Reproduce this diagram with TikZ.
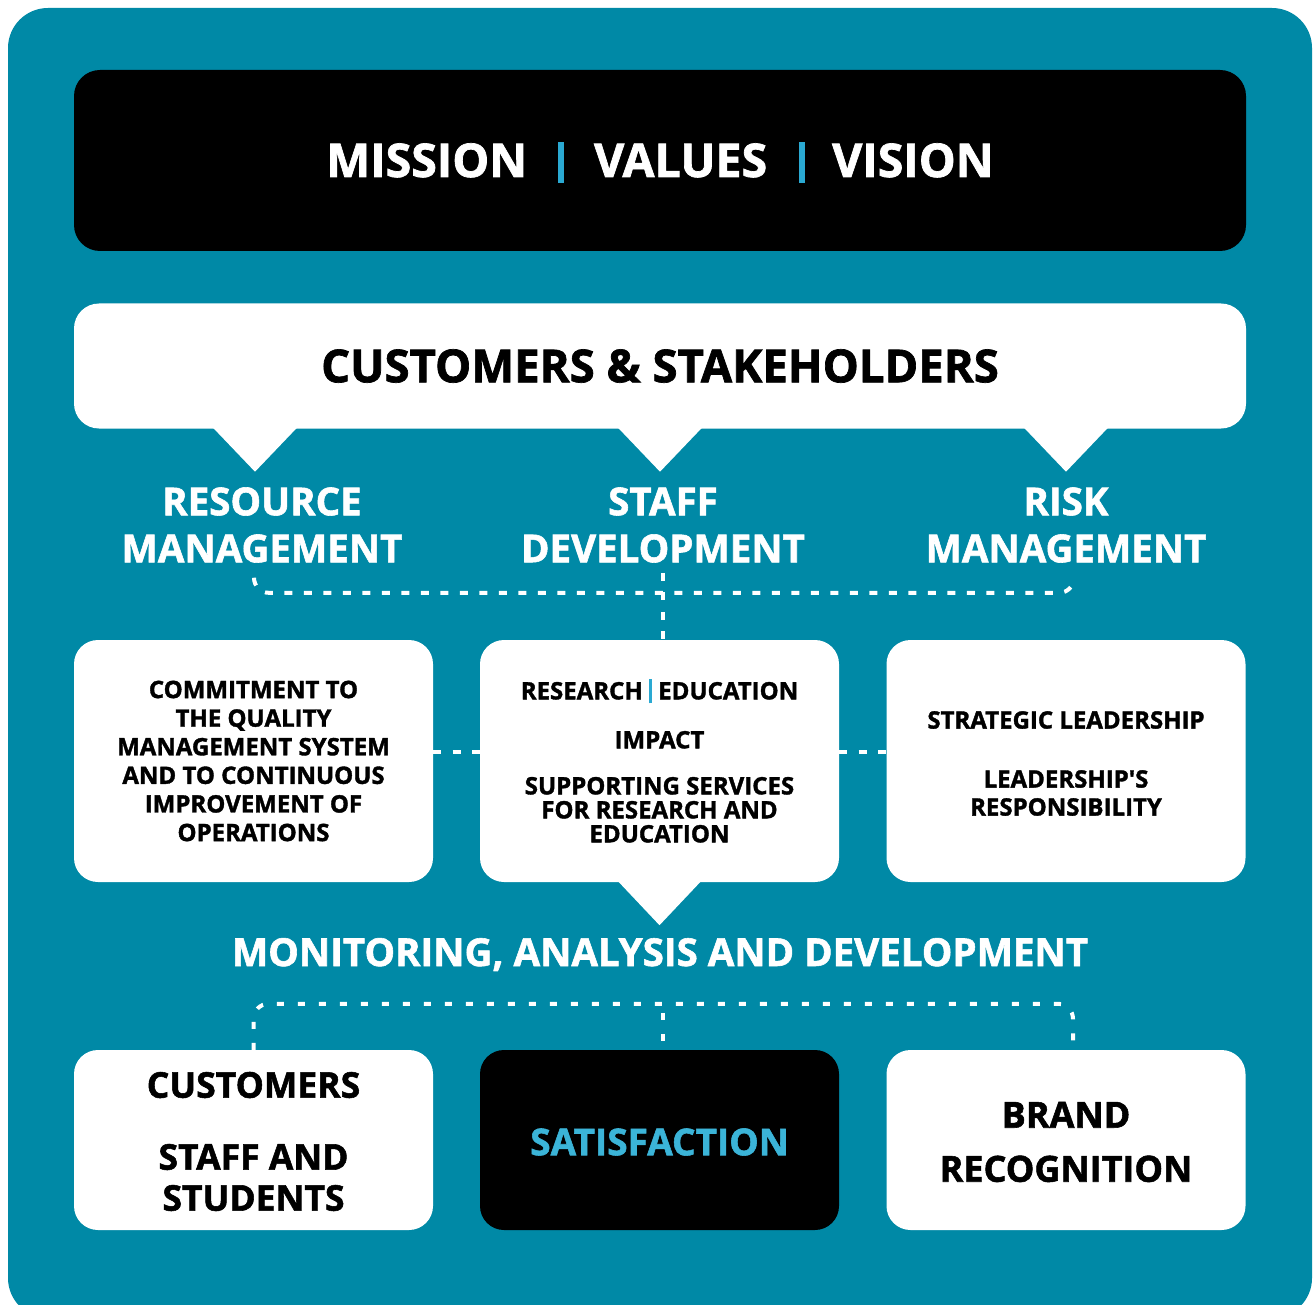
\documentclass[tikz,border=0pt]{standalone}
\usepackage{fontspec}
\setmainfont{Open Sans}[Ligatures=TeXOff, BoldFeatures={FakeBold=1.5}]
\usetikzlibrary{calc}
\definecolor{bgteal}{HTML}{0089A6}
\definecolor{sepblue}{HTML}{2AA9D2}
\definecolor{satblue}{HTML}{3BB4D8}
\newcommand\fsz[2]{\fontsize{#1}{#2}\selectfont\bfseries}
\begin{document}
\begin{tikzpicture}[x=1pt,y=-1pt,
  wbox/.style={fill=white, rounded corners=24pt, inner sep=0pt, minimum width=359pt, minimum height=242pt, align=center},
  lowbox/.style={fill=white, rounded corners=24pt, inner sep=0pt, minimum width=359pt, minimum height=180pt, align=center},
  txt/.style={inner sep=0pt, align=center, text=black},
  wtxt/.style={inner sep=0pt, align=center, text=white},
  dline/.style={draw=white, line width=4pt, dash pattern=on 8pt off 11.5pt},
  dotline/.style={draw=white, line width=4pt, dash pattern=on 7pt off 14pt},
  pointer/.style={fill=white}
]
\useasboundingbox (0,0) rectangle (1314,1305);
\fill[white] (0,0) rectangle (1314,1305);
\fill[bgteal, rounded corners=40pt] (8,8) rectangle (1312,1318);

% top black banner
\node[fill=black, rounded corners=26pt, minimum width=1172pt, minimum height=181pt, inner sep=0pt, text=white, font=\fsz{46.5}{54}] (mvv) at (660,160.5)
  {\rule{0pt}{39pt}MISSION\hspace{31pt}\textcolor{sepblue}{\rule[-6pt]{6pt}{41pt}}\hspace{30pt}VALUES\hspace{32pt}\textcolor{sepblue}{\rule[-6pt]{6pt}{41pt}}\hspace{27pt}VISION};

% customers & stakeholders
\node[fill=white, rounded corners=25pt, minimum width=1172pt, minimum height=125pt, inner sep=0pt, font=\fsz{45.5}{54}] (cs) at (660,366) {CUSTOMERS \& STAKEHOLDERS};
\fill[pointer] ($(cs.south)+(-448,-2)$) -- ++(86,0) -- ++(-43,45) -- cycle;
\fill[pointer] ($(cs.south)+(-43,-2)$) -- ++(86,0) -- ++(-43,45) -- cycle;
\fill[pointer] ($(cs.south)+(363,-2)$) -- ++(86,0) -- ++(-43,45) -- cycle;

% labels
\node[wtxt, font=\fsz{38.5}{47}] (rm) at (262,525) {RESOURCE\\MANAGEMENT};
\node[wtxt, font=\fsz{38.5}{47}] (sd) at (663,525) {STAFF\\DEVELOPMENT};
\node[wtxt, font=\fsz{38.5}{47}] (rk) at (1066,525) {RISK\\MANAGEMENT};

% middle boxes
\node[wbox, font=\fsz{24}{28.6}] (lb) at (253.5,761) {COMMITMENT TO\\THE QUALITY\\MANAGEMENT SYSTEM\\AND TO CONTINUOUS\\IMPROVEMENT OF\\OPERATIONS};
\node[wbox, font=\fsz{24}{24}] (mb) at (659.5,761) {RESEARCH \textcolor{sepblue}{\rule[-4pt]{3pt}{24pt}} EDUCATION\\[25pt]IMPACT\\[22pt]SUPPORTING SERVICES\\FOR RESEARCH AND\\EDUCATION};
\node[wbox] (rb) at (1066,761) {};
\node[txt, font=\fsz{24}{28}] (rbt) at (1066,763.5) {STRATEGIC LEADERSHIP\\[31pt]LEADERSHIP'S\\RESPONSIBILITY};
\fill[pointer] ($(mb.south)+(-42.5,-2)$) -- ++(85,0) -- ++(-42.5,45) -- cycle;

% dashed connectors (top)
\coordinate (rmd) at ($(rm.south)+(-8,15)$);
\coordinate (rkd) at ($(rk.south)+(8,15)$);
\draw[dline, rounded corners=15pt] (rmd) |- ($(sd.south)+(0,30)$) -| (rkd);
\draw[dline] ($(sd.south)+(0,10)$) -- (sd.south |- mb.north);
\draw[dline] ($(lb.east)+(0,-9)$) -- ($(mb.west)+(0,-9)$);
\draw[dline] ($(mb.east)+(0,-9)$) -- ($(rb.west)+(0,-9)$);

% monitoring
\node[wtxt, font=\fsz{38.5}{46}, anchor=base] (mad) at (660,966) {MONITORING, ANALYSIS AND DEVELOPMENT};

% bottom boxes
\node[lowbox] (cb) at (253.5,1140) {};
\node[txt, font=\fsz{35.5}{41}] (cbt1) at (253.5,1085) {CUSTOMERS};
\node[txt, font=\fsz{35.5}{41}] (cbt2) at (253.5,1177.5) {STAFF AND\\STUDENTS};
\node[lowbox, fill=black] (sb) at (659.5,1140) {};
\node[txt, text=satblue, font=\fsz{37}{40}] (sbt) at (659.5,1142) {SATISFACTION};
\node[lowbox] (bb) at (1066,1140) {};
\node[txt, font=\fsz{36}{54}] (bbt) at (1066,1142) {BRAND\\RECOGNITION};

% dotted bracket (bottom)
\draw[dotline, rounded corners=15pt] (cb.north) |- ($(sb.north)+(0,-46)$) -| ($(bb.north)+(7,0)$);
\draw[dotline] ($(sb.north)+(3.5,-37)$) -- ($(sb.north)+(3.5,0)$);
\end{tikzpicture}
\end{document}
